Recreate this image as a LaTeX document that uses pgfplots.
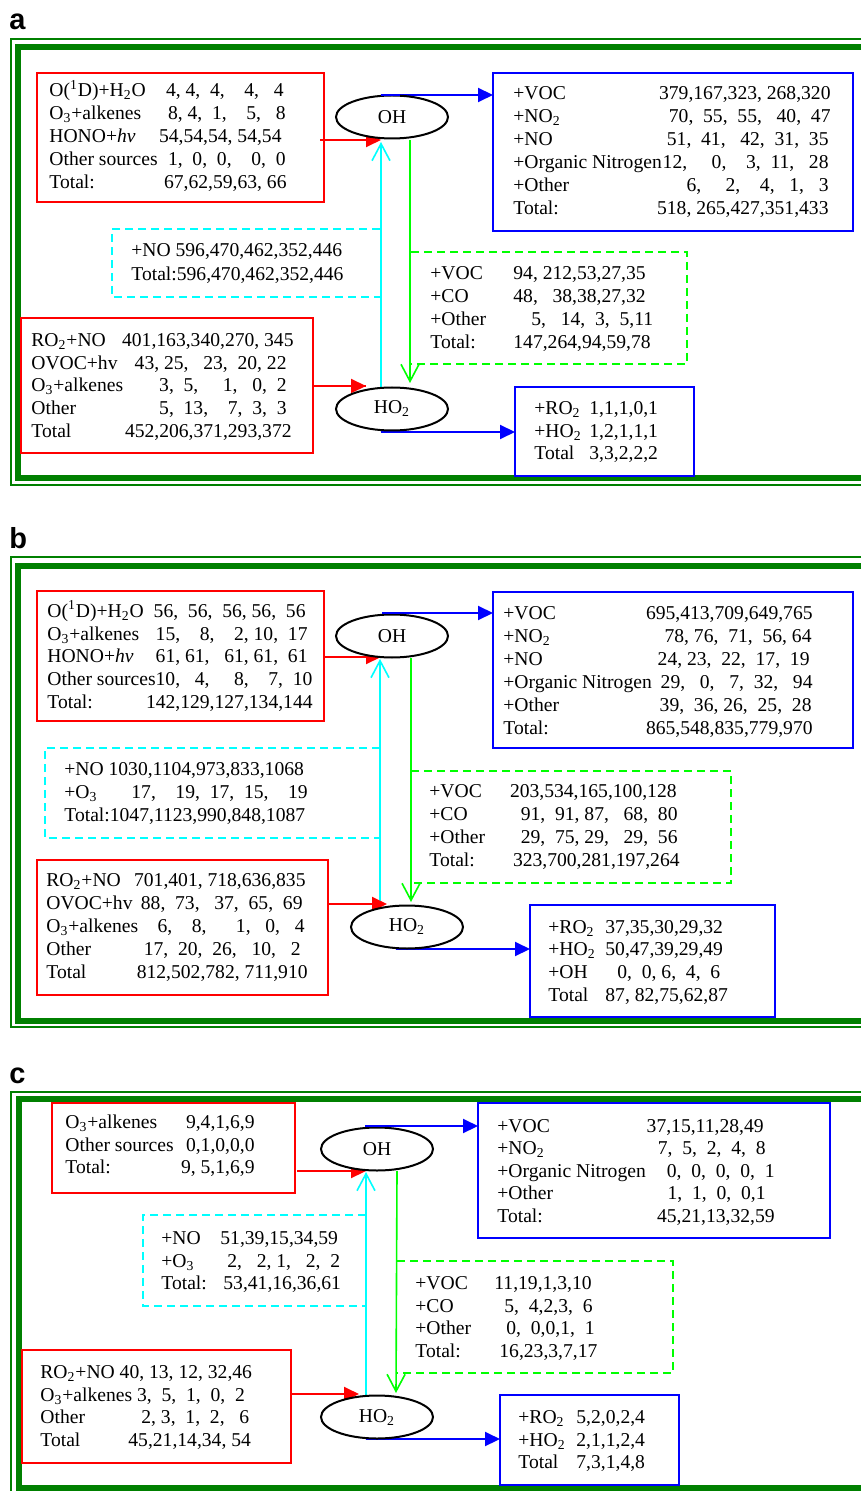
\documentclass[border=0pt]{standalone}
\usepackage{pgfplots}
\pgfplotsset{compat=1.18}
\usepackage{fontspec}
\setmainfont{Liberation Serif}
\newfontfamily\lblfont{Liberation Sans}
\usetikzlibrary{arrows.meta,shapes.geometric}
\definecolor{fgreen}{RGB}{0,128,0}
\definecolor{lgreen}{RGB}{0,255,0}
\definecolor{cyn}{RGB}{0,255,255}
\definecolor{rd}{RGB}{255,0,0}
\definecolor{bl}{RGB}{0,0,255}
\newcommand\fsz{\fontsize{9.8}{11.5}\selectfont}
\newcommand\sub[1]{\textsubscript{#1}}
\tikzset{
 tx/.style={anchor=base west,inner sep=0pt,font=\fsz},
 txr/.style={anchor=base east,inner sep=0pt,font=\fsz},
 ell/.style={draw=black,line width=1pt,ellipse,minimum width=56pt,minimum height=21.5pt,inner sep=0pt,font=\fsz},
 fa/.style={line width=1pt,-{Triangle[length=7.5pt,width=7pt]}},
 oa/.style={line width=0.8pt,-{Straight Barb[length=8.5pt,width=9pt,line width=0.8pt]}},
 dsh/.style={line width=1pt,dash pattern=on 4pt off 2.5pt},
 pl/.style={anchor=base west,inner sep=0pt,font=\lblfont\bfseries\fontsize{14.5}{14.5}\selectfont},
}
\newcommand\Lt[3]{\node[tx] at (axis cs:#1,#2) {#3};}
\newcommand\Rt[3]{\node[txr] at (axis cs:#1,#2) {#3};}
\begin{document}
\begin{tikzpicture}
\begin{axis}[scale only axis,width=430.5pt,height=745.5pt,
 xmin=0,xmax=861,ymin=0,ymax=1491,y dir=reverse,hide axis,clip=false]
% ---------------- frames and panel letters
\node[pl] at (axis cs:9,30) {a};
\node[pl] at (axis cs:9,548) {b};
\node[pl] at (axis cs:9,1083) {c};
\draw[fgreen,line width=1pt] (axis cs:861,39)--(axis cs:11,39)--(axis cs:11,485)--(axis cs:861,485);
\draw[fgreen,line width=3pt] (axis cs:861,47.5)--(axis cs:18,47.5)--(axis cs:18,478)--(axis cs:861,478);
\draw[fgreen,line width=1pt] (axis cs:861,557)--(axis cs:11,557)--(axis cs:11,1027)--(axis cs:861,1027);
\draw[fgreen,line width=3pt] (axis cs:861,565.5)--(axis cs:18,565.5)--(axis cs:18,1020.5)--(axis cs:861,1020.5);
\draw[fgreen,line width=1pt] (axis cs:861,1092)--(axis cs:11,1092)--(axis cs:11,1491);
\draw[fgreen,line width=3pt] (axis cs:861,1099)--(axis cs:19,1099)--(axis cs:19,1488)--(axis cs:861,1488);

% ================= PANEL A
\draw[rd,line width=1pt] (axis cs:37,73) rectangle (axis cs:324,202);
\draw[bl,line width=1.3pt] (axis cs:493,73) rectangle (axis cs:853,231);
\draw[rd,line width=1pt] (axis cs:21,318) rectangle (axis cs:313,453);
\draw[bl,line width=1.3pt] (axis cs:515,387) rectangle (axis cs:694,476);
\draw[cyn,dsh] (axis cs:380,229)--(axis cs:112,229)--(axis cs:112,297)--(axis cs:380,297);
\draw[lgreen,dsh] (axis cs:411,252)--(axis cs:687,252)--(axis cs:687,364)--(axis cs:411,364);
\draw[cyn,oa] (axis cs:381,388)--(axis cs:381,142);
\draw[lgreen,oa] (axis cs:410,140)--(axis cs:410,383);
\draw[bl,fa] (axis cs:381,95)--(axis cs:493,95);
\draw[rd,fa] (axis cs:320,140)--(axis cs:381,140);
\draw[rd,fa] (axis cs:313,386)--(axis cs:366,386);
\draw[bl,fa] (axis cs:381,432)--(axis cs:515,432);
\node[ell,fill=white] at (axis cs:392,117) {OH};
\node[ell,fill=white] at (axis cs:392,409) {HO\sub{2}};
\draw[bl,line width=1pt] (axis cs:381,95)--(axis cs:400,95);
\draw[rd,line width=1pt] (axis cs:360,386)--(axis cs:366,386);
% TL
\Lt{49}{97}{O(\textsuperscript{1}D)+H\sub{2}O} \Rt{284}{97}{4,~4,~~4,~~~~4,~~~4}
\Lt{49}{120}{O\sub{3}+alkenes} \Rt{286}{120}{8,~4,~~1,~~~~5,~~~8}
\Lt{49}{143}{HONO+\textit{hv}} \Rt{282}{143}{54,54,54,~54,54}
\Lt{49}{166}{Other sources} \Rt{286}{166}{1,~~0,~~0,~~~~0,~~0}
\Lt{49}{189}{Total:} \Rt{287}{189}{67,62,59,63,~66}
% TR
\Lt{513}{100}{+VOC} \Rt{831}{100}{379,167,323,~268,320}
\Lt{513}{123}{+NO\sub{2}} \Rt{831}{123}{70,~~55,~~55,~~~40,~~47}
\Lt{513}{146}{+NO} \Rt{829}{146}{51,~~41,~~~42,~~31,~~35}
\Lt{513}{169}{+Organic Nitrogen} \Rt{829}{169}{12,~~~~~0,~~~~3,~~11,~~~28}
\Lt{513}{192}{+Other} \Rt{829}{192}{6,~~~~~2,~~~~4,~~~1,~~~3}
\Lt{513}{215}{Total:} \Rt{829}{215}{518,~265,427,351,433}
% cyan
\Lt{131}{257}{+NO 596,470,462,352,446}
\Lt{131}{281}{Total:596,470,462,352,446}
% green
\Lt{430}{280}{+VOC} \Lt{513}{280}{94,~212,53,27,35}
\Lt{430}{303}{+CO} \Lt{513}{303}{48,~~~38,38,27,32}
\Lt{430}{326}{+Other} \Lt{531}{326}{5,~~~14,~~3,~~5,11}
\Lt{430}{349}{Total:} \Lt{513}{349}{147,264,94,59,78}
% BL
\Lt{31}{347}{RO\sub{2}+NO} \Rt{294}{347}{401,163,340,270,~345}
\Lt{31}{370}{OVOC+hv} \Rt{287}{370}{43,~25,~~~23,~~20,~22}
\Lt{31}{392}{O\sub{3}+alkenes} \Rt{287}{392}{3,~~5,~~~~~1,~~~0,~~2}
\Lt{31}{415}{Other} \Rt{287}{415}{5,~~13,~~~~7,~~3,~~3}
\Lt{31}{438}{Total} \Rt{292}{438}{452,206,371,293,372}
% BR
\Lt{534}{415}{+RO\sub{2}} \Lt{589}{415}{1,1,1,0,1}
\Lt{534}{438}{+HO\sub{2}} \Lt{589}{438}{1,2,1,1,1}
\Lt{534}{460}{Total} \Lt{589}{460}{3,3,2,2,2}

% ================= PANEL B
\draw[rd,line width=1pt] (axis cs:37,591) rectangle (axis cs:324,721);
\draw[bl,line width=1.3pt] (axis cs:493,592) rectangle (axis cs:853,748);
\draw[rd,line width=1pt] (axis cs:37,860) rectangle (axis cs:328,995);
\draw[bl,line width=1.3pt] (axis cs:530,905) rectangle (axis cs:775,1017);
\draw[cyn,dsh] (axis cs:380,748)--(axis cs:45,748)--(axis cs:45,838)--(axis cs:380,838);
\draw[lgreen,dsh] (axis cs:411,771)--(axis cs:731,771)--(axis cs:731,883)--(axis cs:411,883);
\draw[cyn,oa] (axis cs:380,905)--(axis cs:380,659);
\draw[lgreen,oa] (axis cs:411,658)--(axis cs:411,902);
\draw[bl,fa] (axis cs:382,613)--(axis cs:493,613);
\draw[rd,fa] (axis cs:324,657)--(axis cs:381,657);
\draw[rd,fa] (axis cs:328,904)--(axis cs:387,904);
\draw[bl,fa] (axis cs:396,949)--(axis cs:530,949);
\node[ell,fill=white] at (axis cs:392,636) {OH};
\node[ell,fill=white] at (axis cs:407,927) {HO\sub{2}};
\draw[bl,line width=1pt] (axis cs:382,613)--(axis cs:400,613);
% TL
\Lt{47}{617}{O(\textsuperscript{1}D)+H\sub{2}O} \Rt{306}{617}{56,~~56,~~56,~56,~~56}
\Lt{47}{640}{O\sub{3}+alkenes} \Rt{308}{640}{15,~~~~8,~~~~2,~10,~~17}
\Lt{47}{662}{HONO+\textit{hv}} \Rt{308}{662}{61,~61,~~~61,~61,~~61}
\Lt{47}{685}{Other sources10,~~~4,~~~~~8,~~~~7,~~10}
\Lt{47}{708}{Total:} \Rt{313}{708}{142,129,127,134,144}
% TR
\Lt{503}{619}{+VOC} \Rt{813}{619}{695,413,709,649,765}
\Lt{503}{642}{+NO\sub{2}} \Rt{812}{642}{78,~76,~~71,~~56,~64}
\Lt{503}{665}{+NO} \Rt{810}{665}{24,~23,~~22,~~17,~~19}
\Lt{503}{688}{+Organic Nitrogen} \Rt{813}{688}{29,~~~0,~~~7,~~32,~~~94}
\Lt{503}{711}{+Other} \Rt{812}{711}{39,~~36,~26,~~25,~~28}
\Lt{503}{734}{Total:} \Rt{813}{734}{865,548,835,779,970}
% cyan
\Lt{64}{775}{+NO 1030,1104,973,833,1068}
\Lt{64}{798}{+O\sub{3}} \Lt{131}{798}{17,~~~~19,~~17,~~15,~~~~19}
\Lt{64}{821}{Total:1047,1123,990,848,1087}
% green
\Lt{429}{797}{+VOC} \Rt{677}{797}{203,534,165,100,128}
\Lt{429}{820}{+CO} \Rt{678}{820}{91,~~91,~87,~~~68,~~80}
\Lt{429}{843}{+Other} \Rt{678}{843}{29,~~75,~29,~~~29,~~56}
\Lt{429}{866}{Total:} \Rt{680}{866}{323,700,281,197,264}
% BL
\Lt{46}{886}{RO\sub{2}+NO} \Rt{306}{886}{701,401,~718,636,835}
\Lt{46}{909}{OVOC+hv} \Rt{303}{909}{88,~~73,~~~37,~~65,~~69}
\Lt{46}{932}{O\sub{3}+alkenes} \Rt{305}{932}{6,~~~~8,~~~~~~1,~~~0,~~~4}
\Lt{46}{955}{Other} \Rt{301}{955}{17,~~20,~~26,~~~10,~~~2}
\Lt{46}{978}{Total} \Rt{308}{978}{812,502,782,~711,910}
% BR
\Lt{548}{933}{+RO\sub{2}} \Lt{605}{933}{37,35,30,29,32}
\Lt{548}{955}{+HO\sub{2}} \Lt{605}{955}{50,47,39,29,49}
\Lt{548}{978}{+OH} \Lt{617}{978}{0,~~0,~6,~~4,~~6}
\Lt{548}{1001}{Total} \Lt{605}{1001}{87,~82,75,62,87}

% ================= PANEL C
\draw[rd,line width=1pt] (axis cs:52,1103) rectangle (axis cs:295,1193);
\draw[bl,line width=1.3pt] (axis cs:478,1103) rectangle (axis cs:830,1238);
\draw[rd,line width=1pt] (axis cs:22,1350) rectangle (axis cs:291,1463);
\draw[bl,line width=1.3pt] (axis cs:500,1395) rectangle (axis cs:679,1485);
\draw[cyn,dsh] (axis cs:366,1215)--(axis cs:143,1215)--(axis cs:143,1306)--(axis cs:366,1306);
\draw[lgreen,dsh] (axis cs:397,1261)--(axis cs:673,1261)--(axis cs:673,1373)--(axis cs:397,1373);
\draw[cyn,oa] (axis cs:366,1395)--(axis cs:366,1172);
\draw[lgreen,oa] (axis cs:397,1171)--(axis cs:396,1393);
\draw[bl,fa] (axis cs:365,1126)--(axis cs:478,1126);
\draw[rd,fa] (axis cs:297,1171)--(axis cs:366,1171);
\draw[rd,fa] (axis cs:291,1394)--(axis cs:359,1394);
\draw[bl,fa] (axis cs:366,1439)--(axis cs:500,1439);
\node[ell,fill=white] at (axis cs:377,1149) {OH};
\node[ell,fill=white] at (axis cs:377,1417) {HO\sub{2}};
\draw[bl,line width=1pt] (axis cs:365,1126)--(axis cs:385,1126);
% TL
\Lt{65}{1128}{O\sub{3}+alkenes} \Rt{255}{1128}{9,4,1,6,9}
\Lt{65}{1151}{Other sources} \Rt{255}{1151}{0,1,0,0,0}
\Lt{65}{1173}{Total:} \Rt{255}{1173}{9,~5,1,6,9}
% TR
\Lt{497}{1132}{+VOC} \Rt{764}{1132}{37,15,11,28,49}
\Lt{497}{1154}{+NO\sub{2}} \Rt{766}{1154}{7,~~5,~~2,~~4,~~8}
\Lt{497}{1177}{+Organic Nitrogen} \Rt{775}{1177}{0,~~0,~~0,~~0,~~1}
\Lt{497}{1199}{+Other} \Rt{766}{1199}{1,~~1,~~0,~~0,1}
\Lt{497}{1222}{Total:} \Rt{775}{1222}{45,21,13,32,59}
% cyan
\Lt{161}{1244}{+NO} \Lt{220}{1244}{51,39,15,34,59}
\Lt{161}{1267}{+O\sub{3}} \Lt{227}{1267}{2,~~~2,~1,~~~2,~~2}
\Lt{161}{1289}{Total:} \Lt{223}{1289}{53,41,16,36,61}
% green
\Lt{415}{1289}{+VOC} \Lt{494}{1289}{11,19,1,3,10}
\Lt{415}{1312}{+CO} \Lt{504}{1312}{5,~~4,2,3,~~6}
\Lt{415}{1334}{+Other} \Lt{506}{1334}{0,~~0,0,1,~~1}
\Lt{415}{1357}{Total:} \Lt{499}{1357}{16,23,3,7,17}
% BL
\Lt{40}{1378}{RO\sub{2}+NO 40,~13,~12,~32,46}
\Lt{40}{1401}{O\sub{3}+alkenes 3,~~5,~~1,~~0,~~2}
\Lt{40}{1423}{Other} \Lt{141}{1423}{2,~3,~~1,~~2,~~~6}
\Lt{40}{1446}{Total} \Lt{128}{1446}{45,21,14,34,~54}
% BR
\Lt{518}{1423}{+RO\sub{2}} \Lt{576}{1423}{5,2,0,2,4}
\Lt{518}{1446}{+HO\sub{2}} \Lt{576}{1446}{2,1,1,2,4}
\Lt{518}{1468}{Total} \Lt{576}{1468}{7,3,1,4,8}

\coordinate (bbA) at (axis cs:0,0);
\coordinate (bbB) at (axis cs:861,1491);
\end{axis}
\pgfresetboundingbox
\path[use as bounding box] (bbA) rectangle (bbB);
\end{tikzpicture}
\end{document}
